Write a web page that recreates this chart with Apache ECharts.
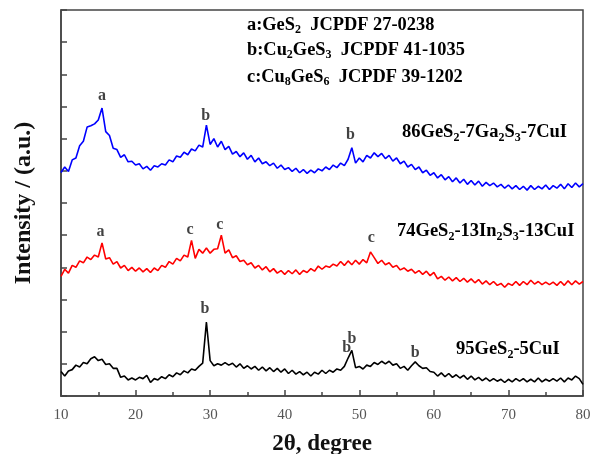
<!DOCTYPE html>
<html>
<head>
<meta charset="utf-8">
<script src="https://cdn.jsdelivr.net/npm/echarts@6/dist/echarts.min.js"></script>
<style>html,body{margin:0;padding:0;background:#fff}#c{width:590px;height:454px}</style>
</head>
<body>
<div id="c"></div>
<script>
// 2-theta positions, 10..80 step 0.5
var twoTheta = [];
for (var i = 0; i <= 140; i++) twoTheta.push(10 + i * 0.5);

// 86GeS2-7Ga2S3-7CuI (offset trace)
var ga = [6.95,7.12,6.98,7.34,7.40,7.78,7.92,8.36,8.40,8.46,8.58,8.95,8.22,8.10,7.70,7.66,7.42,7.50,7.28,7.30,
7.18,7.22,7.06,7.14,7.02,7.16,7.12,7.22,7.18,7.34,7.28,7.46,7.42,7.58,7.50,7.68,7.62,7.80,7.74,8.42,
7.82,8.00,7.74,7.92,7.66,7.76,7.52,7.60,7.44,7.56,7.36,7.48,7.28,7.40,7.22,7.28,7.16,7.24,7.08,7.18,
7.04,7.10,6.98,7.08,6.94,7.04,6.92,7.02,6.94,7.06,7.00,7.12,7.04,7.18,7.10,7.24,7.16,7.36,7.72,7.24,
7.40,7.28,7.48,7.40,7.56,7.44,7.54,7.38,7.48,7.30,7.40,7.22,7.30,7.12,7.20,7.04,7.12,6.94,7.02,6.86,
6.94,6.78,6.88,6.72,6.82,6.66,6.78,6.62,6.74,6.58,6.70,6.56,6.68,6.52,6.64,6.54,6.62,6.50,6.58,6.46,
6.56,6.44,6.54,6.42,6.52,6.40,6.54,6.42,6.52,6.44,6.56,6.42,6.54,6.46,6.58,6.44,6.60,6.48,6.62,6.50,
6.60];

// 74GeS2-13In2S3-13CuI
var inS = [3.72,3.94,3.82,4.06,4.00,4.20,4.14,4.32,4.24,4.38,4.32,4.76,4.26,4.30,4.10,4.18,3.98,4.06,3.90,4.00,
3.88,3.98,3.86,3.96,3.84,3.98,3.90,4.06,4.00,4.18,4.10,4.28,4.20,4.38,4.32,4.84,4.28,4.56,4.44,4.60,
4.44,4.56,4.58,5.00,4.44,4.54,4.30,4.36,4.18,4.22,4.08,4.14,3.98,4.06,3.92,4.02,3.86,3.96,3.82,3.90,
3.78,3.90,3.80,3.92,3.78,3.90,3.84,3.96,3.88,4.04,3.94,4.04,4.00,4.10,4.04,4.18,4.06,4.20,4.08,4.22,
4.10,4.24,4.14,4.48,4.30,4.12,4.22,4.08,4.14,4.00,4.06,3.92,3.98,3.88,3.94,3.82,3.90,3.78,3.88,3.74,
3.84,3.64,3.72,3.60,3.70,3.58,3.68,3.56,3.66,3.54,3.64,3.52,3.62,3.48,3.58,3.46,3.56,3.44,3.50,3.38,
3.50,3.44,3.56,3.44,3.56,3.46,3.60,3.48,3.56,3.46,3.54,3.46,3.54,3.44,3.56,3.44,3.58,3.46,3.58,3.48,
3.56];

// 95GeS2-5CuI
var cu = [0.76,0.62,0.78,0.82,0.96,0.90,1.04,1.00,1.16,1.22,1.10,1.14,0.98,1.00,0.86,0.86,0.58,0.62,0.50,0.56,
0.50,0.58,0.54,0.64,0.42,0.54,0.50,0.60,0.54,0.66,0.60,0.72,0.66,0.78,0.72,0.84,0.80,0.92,1.02,2.30,
1.10,0.94,1.00,0.96,1.04,0.96,1.02,0.90,1.00,0.86,0.94,0.84,0.92,0.80,0.90,0.78,0.88,0.76,0.86,0.74,
0.84,0.70,0.80,0.68,0.76,0.66,0.74,0.62,0.74,0.68,0.80,0.70,0.80,0.74,0.84,0.80,0.92,1.18,1.42,0.88,
0.92,0.84,0.96,0.92,1.04,0.98,1.08,1.00,1.08,0.96,1.00,0.86,0.92,0.80,0.94,1.06,0.94,0.86,0.88,0.76,
0.74,0.62,0.72,0.60,0.70,0.58,0.66,0.56,0.64,0.52,0.62,0.50,0.58,0.48,0.56,0.46,0.54,0.46,0.52,0.42,
0.52,0.44,0.54,0.46,0.54,0.44,0.52,0.44,0.56,0.44,0.52,0.46,0.54,0.46,0.56,0.44,0.56,0.50,0.62,0.54,
0.36];

// peak labels: [2theta, height, letter]
var peakLabels = [
  [15.5, 9.33, 'a'], [29.4, 8.70, 'b'], [48.8, 8.11, 'b'],
  [15.3, 5.10, 'a'], [27.3, 5.16, 'c'], [31.3, 5.32, 'c'], [51.6, 4.91, 'c'],
  [29.3, 2.70, 'b'], [48.3, 1.49, 'b'], [49.0, 1.77, 'b'], [57.5, 1.34, 'b']
];

var xTicks = [10, 20, 30, 40, 50, 60, 70, 80];

function pairs(v) { return twoTheta.map(function (t, i) { return [t, v[i]]; }); }

var serif = 'Liberation Serif';
function mkRich(fs) {
  return {
    n: { fontFamily: serif, fontWeight: 'bold', fontSize: fs, color: '#111', lineHeight: 28 },
    s: { fontFamily: serif, fontWeight: 'bold', fontSize: 12, color: '#111', padding: [10, 0, 0, 0] }
  };
}
var richL = mkRich(18.4);
var richS = mkRich(18.5);

function txt(x, y, t, r) {
  return { type: 'text', left: x, top: y - 7, style: { text: t, rich: r } };
}

var chart = echarts.init(document.getElementById('c'));
chart.setOption({
  animation: false,
  grid: { left: 61, right: 7, top: 10, bottom: 58, show: true, borderColor: '#444', borderWidth: 1.5,
    outerBoundsMode: 'none', containLabel: false },
  xAxis: {
    type: 'value', min: 10, max: 80, interval: 10,
    name: '2θ, degree', nameLocation: 'middle', nameGap: 37,
    nameTextStyle: { fontFamily: serif, fontWeight: 'bold', fontSize: 23, color: '#111' },
    axisLine: { lineStyle: { color: '#444', width: 1.5 } },
    axisTick: { inside: true, length: 6, lineStyle: { color: '#444', width: 1.5 } },
    minorTick: { show: true, splitNumber: 2, length: 4, lineStyle: { color: '#444', width: 1.5 } },
    axisLabel: { fontFamily: serif, fontSize: 15, color: '#555', margin: 12,
      formatter: function (v) { return xTicks.indexOf(v) >= 0 ? String(v) : ''; } },
    splitLine: { show: false }
  },
  yAxis: {
    type: 'value', min: 0, max: 12, interval: 1,
    name: 'Intensity / (a.u.)', nameLocation: 'middle', nameGap: 25,
    nameTextStyle: { fontFamily: serif, fontWeight: 'bold', fontSize: 24, color: '#111' },
    axisLine: { show: true, lineStyle: { color: '#444', width: 1.5 } },
    axisTick: { inside: true, length: 6, lineStyle: { color: '#444', width: 1.5 } },
    axisLabel: { show: false },
    splitLine: { show: false }
  },
  series: [
    { type: 'line', data: pairs(ga), showSymbol: false, lineStyle: { color: '#0000ff', width: 1.6 }, z: 3 },
    { type: 'line', data: pairs(inS), showSymbol: false, lineStyle: { color: '#ff0000', width: 1.6 }, z: 3 },
    { type: 'line', data: pairs(cu), showSymbol: false, lineStyle: { color: '#000000', width: 1.6 }, z: 3 },
    { type: 'scatter', data: peakLabels, symbolSize: 1, itemStyle: { color: 'rgba(0,0,0,0)' },
      label: { show: true, position: 'inside', formatter: function (p) { return p.data[2]; },
        fontFamily: serif, fontWeight: 'bold', fontSize: 16, color: '#111' }, z: 4 }
  ],
  graphic: [
    txt(247, 23, '{n|a:GeS}{s|2}{n|  JCPDF 27-0238}', richL),
    txt(247, 48, '{n|b:Cu}{s|2}{n|GeS}{s|3}{n|  JCPDF 41-1035}', richL),
    txt(247, 75, '{n|c:Cu}{s|8}{n|GeS}{s|6}{n|  JCPDF 39-1202}', richL),
    txt(402, 130, '{n|86GeS}{s|2}{n|-7Ga}{s|2}{n|S}{s|3}{n|-7CuI}', richS),
    txt(397, 229, '{n|74GeS}{s|2}{n|-13In}{s|2}{n|S}{s|3}{n|-13CuI}', richS),
    txt(456, 347, '{n|95GeS}{s|2}{n|-5CuI}', richS)
  ]
});
</script>
</body>
</html>
